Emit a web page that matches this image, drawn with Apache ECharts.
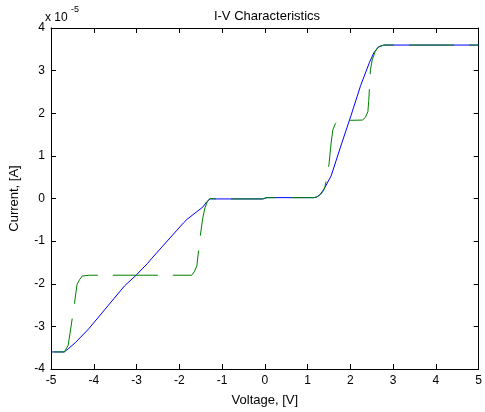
<!DOCTYPE html>
<html>
<head>
<meta charset="utf-8">
<script src="https://cdn.jsdelivr.net/npm/echarts@6/dist/echarts.min.js"></script>
<style>html,body{margin:0;padding:0;background:#fff;}#c{width:485px;height:412px;}</style>
</head>
<body>
<div id="c"></div>
<script>
// Voltage [V] vs current [x1e-5 A]
var blueV = [-5, -4.69, -4.6, -4.43, -4.12, -3.28, -3.01, -2.74, -2.64, -1.90, -1.82, -1.45, -1.36, -1.28, -1.1, -0.05, 0.05, 1.15, 1.21, 1.3, 1.4, 1.55, 1.8, 2.01, 2.24, 2.45, 2.55, 2.65, 2.78, 5];
var blueI = [-3.6, -3.6, -3.53, -3.38, -3.06, -2.05, -1.80, -1.52, -1.40, -0.57, -0.49, -0.2, -0.08, -0.01, -0.01, -0.01, 0.02, 0.02, 0.03, 0.1, 0.25, 0.53, 1.3, 1.93, 2.65, 3.2, 3.42, 3.55, 3.6, 3.6];
var greenV = [-5, -4.69, -4.6, -4.54, -4.46, -4.39, -4.33, -4.27, -4.1, -1.71, -1.65, -1.59, -1.51, -1.45, -1.40, -1.34, -1.28, -1.1, -0.05, 0.05, 1.15, 1.22, 1.3, 1.37, 1.40, 1.44, 1.50, 1.55, 1.59, 1.65, 1.72, 1.8, 2.28, 2.35, 2.41, 2.43, 2.45, 2.47, 2.51, 2.58, 2.66, 2.78, 5];
var greenI = [-3.6, -3.6, -3.45, -3.06, -2.52, -2.01, -1.9, -1.82, -1.8, -1.8, -1.72, -1.58, -0.88, -0.45, -0.22, -0.06, 0, -0.01, -0.01, 0.02, 0.02, 0.04, 0.09, 0.18, 0.25, 0.44, 0.80, 1.3, 1.61, 1.76, 1.83, 1.83, 1.84, 1.9, 2.04, 2.3, 2.67, 3.02, 3.25, 3.45, 3.56, 3.6, 3.6];
var xTicks = [-5, -4, -3, -2, -1, 0, 1, 2, 3, 4, 5];
var yTicks = [-4, -3, -2, -1, 0, 1, 2, 3, 4];

function pairs(a, b) { return a.map(function (v, i) { return [v, b[i]]; }); }

var FONT = '"Liberation Sans", Arial, Helvetica, sans-serif';
var chart = echarts.init(document.getElementById('c'));
function axisBase(extra) {
  var o = {
    type: 'value',
    axisLine: { show: true, onZero: false, lineStyle: { color: '#000', width: 1 } },
    axisTick: { show: true, inside: true, length: 5, lineStyle: { color: '#000' } },
    splitLine: { show: false },
    axisLabel: { color: '#000', fontSize: 12, fontFamily: FONT }
  };
  for (var k in extra) o[k] = extra[k];
  return o;
}
chart.setOption({
  animation: false,
  backgroundColor: '#fff',
  title: {
    text: 'I-V Characteristics', left: 262, top: 5, textAlign: 'center',
    textStyle: { fontSize: 13, fontWeight: 'normal', color: '#000', fontFamily: FONT }
  },
  grid: { left: 45, right: 5, top: 28, bottom: 42 },
  xAxis: [
    axisBase({ min: xTicks[0], max: xTicks[xTicks.length - 1], interval: 1, position: 'bottom',
      name: 'Voltage, [V]', nameLocation: 'middle', nameGap: 25,
      nameTextStyle: { fontSize: 13, color: '#000', fontFamily: FONT },
      axisLabel: { color: '#000', fontSize: 12, fontFamily: FONT, margin: 6 } }),
    axisBase({ min: xTicks[0], max: xTicks[xTicks.length - 1], interval: 1, position: 'top', axisLabel: { show: false } })
  ],
  yAxis: [
    axisBase({ min: yTicks[0], max: yTicks[yTicks.length - 1], interval: 1, position: 'left',
      name: 'Current, [A]', nameLocation: 'middle', nameGap: 30,
      nameTextStyle: { fontSize: 13, color: '#000', fontFamily: FONT },
      axisLabel: { color: '#000', fontSize: 12, fontFamily: FONT, margin: 6 } }),
    axisBase({ min: yTicks[0], max: yTicks[yTicks.length - 1], interval: 1, position: 'right', axisLabel: { show: false } })
  ],
  graphic: [
    { type: 'text', left: 45, top: 12, style: { text: 'x 10', font: '12px ' + FONT, fill: '#000' } },
    { type: 'text', left: 71, top: 5, style: { text: '-5', font: '9px ' + FONT, fill: '#000' } }
  ],
  series: [
    { type: 'line', data: pairs(blueV, blueI), showSymbol: false, symbol: 'none',
      lineStyle: { color: '#0000ff', width: 1 }, z: 2 },
    { type: 'line', data: pairs(greenV, greenI), showSymbol: false, symbol: 'none',
      lineStyle: { color: '#008000', width: 1, type: [45, 15], dashOffset: 57 }, z: 3 }
  ]
});
</script>
</body>
</html>
